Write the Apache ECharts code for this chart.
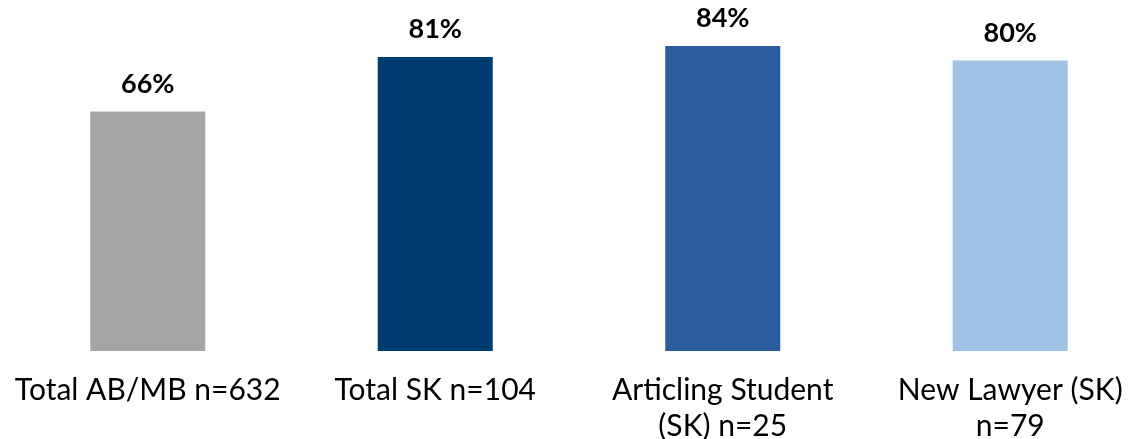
<!DOCTYPE html>
<html>
<head>
<meta charset="utf-8">
<script src="https://cdn.jsdelivr.net/npm/echarts@6/dist/echarts.min.js"></script>
<style>
  html, body { margin: 0; padding: 0; background: #ffffff; }
  #chart { width: 1129px; height: 439px; }
</style>
</head>
<body>
<div id="chart"></div>
<script>
// Share of respondents per group
const categories = ['Total AB/MB n=632', 'Total SK n=104', 'Articling Student\n(SK) n=25', 'New Lawyer (SK)\nn=79'];
const values = [66, 81, 84, 80];
const barColors = ['#a5a5a5', '#003b71', '#2a5c9e', '#a0c2e7'];

const FONT = 'Lato, "Noto Sans", sans-serif';

const chart = echarts.init(document.getElementById('chart'), null, { renderer: 'canvas' });

chart.setOption({
  animation: false,
  backgroundColor: '#ffffff',
  grid: { left: 4, width: 1150, top: 0, bottom: 88, containLabel: false, outerBoundsMode: 'none' },
  xAxis: {
    type: 'category',
    data: categories,
    axisLine: { show: false },
    axisTick: { show: false },
    axisLabel: {
      interval: 0,
      margin: 21,
      color: '#000000',
      fontFamily: FONT,
      fontSize: 30,
      lineHeight: 36,
      hideOverlap: false
    }
  },
  yAxis: {
    type: 'value',
    min: 0,
    max: 96.7,
    show: false
  },
  series: [{
    type: 'bar',
    barWidth: 115,
    data: values.map((v, i) => ({ value: v, itemStyle: { color: barColors[i] } })),
    label: {
      show: true,
      position: 'top',
      distance: 14,
      formatter: '{c}%',
      color: '#000000',
      fontFamily: FONT,
      fontWeight: 'bold',
      fontSize: 27
    }
  }]
});
</script>
</body>
</html>
